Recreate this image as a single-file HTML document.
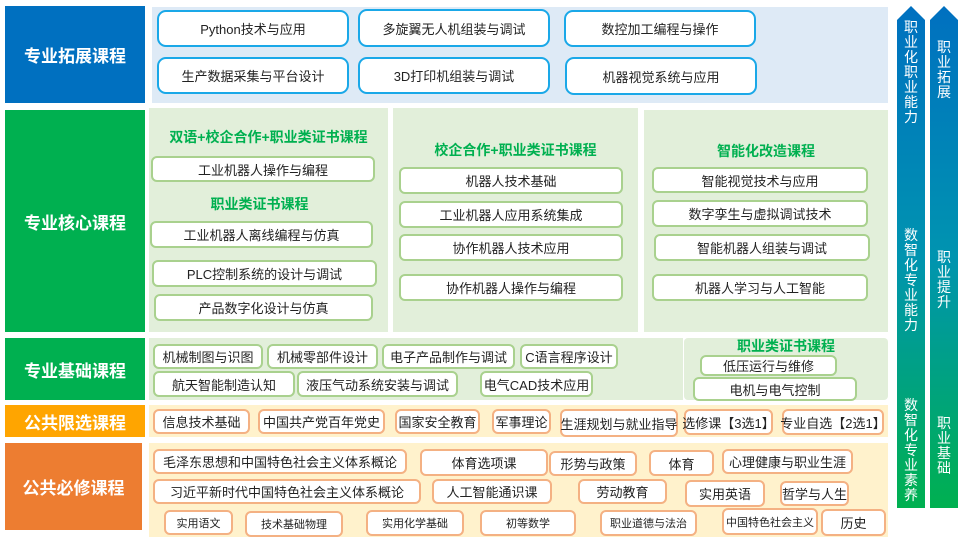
<!DOCTYPE html>
<html><head><meta charset="utf-8"><style>
*{margin:0;padding:0;box-sizing:border-box}
body{width:966px;height:539px;background:#fff;position:relative;overflow:hidden;font-family:"Liberation Sans","Noto Sans CJK SC",sans-serif;}
.lab{position:absolute;color:#fff;font-weight:bold;font-size:17px;display:flex;align-items:center;justify-content:center}
.p{position:absolute}
.b{position:absolute;background:#fff;border-radius:6px;display:flex;align-items:center;justify-content:center;font-size:13px;color:#222;white-space:nowrap}
.bl{border:2px solid #1AA8E8;border-radius:9px}
.g{border:2px solid #A9D18E}
.o{border:2px solid #F4B183}
.t{position:absolute;color:#00B050;font-weight:bold;font-size:14px;text-align:center;white-space:nowrap}
.arr{position:absolute;width:28px;top:6px;height:502px;background:linear-gradient(#0070C0,#0094B0 50%,#00B050);clip-path:polygon(0 14px,50% 0,100% 14px,100% 100%,0 100%)}
.vt{position:absolute;color:#fff;font-size:14px;line-height:15px;width:28px;text-align:center}
.s{font-size:11px}
</style></head><body>
<div class="lab" style="left:5px;top:6px;width:140px;height:97px;background:#0070C0">专业拓展课程</div>
<div class="lab" style="left:5px;top:110px;width:140px;height:222px;background:#00B050">专业核心课程</div>
<div class="lab" style="left:5px;top:338px;width:140px;height:62px;background:#00B050">专业基础课程</div>
<div class="lab" style="left:5px;top:405px;width:140px;height:32px;background:#FFA500">公共限选课程</div>
<div class="lab" style="left:5px;top:443px;width:137px;height:87px;background:#ED7D31">公共必修课程</div>

<div class="p" style="left:152px;top:7px;width:736px;height:96px;background:#DEEAF6"></div>
<div class="b bl" style="left:157px;top:10px;width:192px;height:37px">Python技术与应用</div>
<div class="b bl" style="left:358px;top:9px;width:192px;height:38px">多旋翼无人机组装与调试</div>
<div class="b bl" style="left:564px;top:10px;width:192px;height:37px">数控加工编程与操作</div>
<div class="b bl" style="left:157px;top:57px;width:192px;height:37px">生产数据采集与平台设计</div>
<div class="b bl" style="left:358px;top:57px;width:192px;height:37px">3D打印机组装与调试</div>
<div class="b bl" style="left:565px;top:57px;width:192px;height:38px">机器视觉系统与应用</div>

<div class="p" style="left:149px;top:108px;width:239px;height:224px;background:#E2EFDA"></div>
<div class="p" style="left:393px;top:108px;width:245px;height:224px;background:#E2EFDA"></div>
<div class="p" style="left:644px;top:110px;width:244px;height:222px;background:#E2EFDA"></div>
<div class="t" style="left:149px;top:127px;width:239px">双语+校企合作+职业类证书课程</div>
<div class="b g" style="left:151px;top:156px;width:224px;height:26px">工业机器人操作与编程</div>
<div class="t" style="left:140px;top:194px;width:239px">职业类证书课程</div>
<div class="b g" style="left:150px;top:221px;width:223px;height:27px">工业机器人离线编程与仿真</div>
<div class="b g" style="left:152px;top:260px;width:225px;height:27px">PLC控制系统的设计与调试</div>
<div class="b g" style="left:154px;top:294px;width:219px;height:27px">产品数字化设计与仿真</div>
<div class="t" style="left:393px;top:140px;width:245px">校企合作+职业类证书课程</div>
<div class="b g" style="left:399px;top:167px;width:224px;height:27px">机器人技术基础</div>
<div class="b g" style="left:399px;top:201px;width:224px;height:27px">工业机器人应用系统集成</div>
<div class="b g" style="left:399px;top:234px;width:224px;height:27px">协作机器人技术应用</div>
<div class="b g" style="left:399px;top:274px;width:224px;height:27px">协作机器人操作与编程</div>
<div class="t" style="left:644px;top:141px;width:244px">智能化改造课程</div>
<div class="b g" style="left:652px;top:167px;width:216px;height:26px">智能视觉技术与应用</div>
<div class="b g" style="left:652px;top:200px;width:216px;height:27px">数字孪生与虚拟调试技术</div>
<div class="b g" style="left:654px;top:234px;width:216px;height:27px">智能机器人组装与调试</div>
<div class="b g" style="left:652px;top:274px;width:216px;height:27px">机器人学习与人工智能</div>

<div class="p" style="left:149px;top:338px;width:534px;height:62px;background:#E2EFDA"></div>
<div class="p" style="left:684px;top:338px;width:204px;height:62px;background:#E2EFDA;border-radius:4px"></div>
<div class="b g" style="left:153px;top:344px;width:110px;height:25px">机械制图与识图</div>
<div class="b g" style="left:267px;top:344px;width:111px;height:25px">机械零部件设计</div>
<div class="b g" style="left:382px;top:344px;width:133px;height:25px">电子产品制作与调试</div>
<div class="b g" style="left:520px;top:344px;width:98px;height:25px">C语言程序设计</div>
<div class="b g" style="left:153px;top:371px;width:142px;height:26px">航天智能制造认知</div>
<div class="b g" style="left:297px;top:371px;width:161px;height:26px">液压气动系统安装与调试</div>
<div class="b g" style="left:480px;top:371px;width:113px;height:26px">电气CAD技术应用</div>
<div class="t" style="left:684px;top:336px;width:204px">职业类证书课程</div>
<div class="b g" style="left:700px;top:355px;width:137px;height:21px">低压运行与维修</div>
<div class="b g" style="left:693px;top:377px;width:164px;height:24px">电机与电气控制</div>

<div class="p" style="left:149px;top:405px;width:739px;height:32px;background:#FFF2CC"></div>
<div class="b o" style="left:153px;top:409px;width:97px;height:25px">信息技术基础</div>
<div class="b o" style="left:258px;top:409px;width:127px;height:25px">中国共产党百年党史</div>
<div class="b o" style="left:395px;top:409px;width:85px;height:25px">国家安全教育</div>
<div class="b o" style="left:492px;top:409px;width:59px;height:25px">军事理论</div>
<div class="b o" style="left:560px;top:409px;width:118px;height:28px">生涯规划与就业指导</div>
<div class="b o" style="left:684px;top:409px;width:89px;height:26px">选修课【3选1】</div>
<div class="b o" style="left:782px;top:409px;width:102px;height:26px">专业自选【2选1】</div>

<div class="p" style="left:149px;top:443px;width:739px;height:94px;background:#FFF2CC"></div>
<div class="b o" style="left:153px;top:449px;width:254px;height:25px">毛泽东思想和中国特色社会主义体系概论</div>
<div class="b o" style="left:420px;top:449px;width:128px;height:27px">体育选项课</div>
<div class="b o" style="left:549px;top:451px;width:88px;height:25px">形势与政策</div>
<div class="b o" style="left:649px;top:450px;width:65px;height:26px">体育</div>
<div class="b o" style="left:722px;top:449px;width:131px;height:25px">心理健康与职业生涯</div>
<div class="b o" style="left:153px;top:479px;width:268px;height:25px">习近平新时代中国特色社会主义体系概论</div>
<div class="b o" style="left:432px;top:479px;width:120px;height:25px">人工智能通识课</div>
<div class="b o" style="left:578px;top:479px;width:89px;height:25px">劳动教育</div>
<div class="b o" style="left:685px;top:480px;width:80px;height:27px">实用英语</div>
<div class="b o" style="left:780px;top:481px;width:69px;height:25px">哲学与人生</div>
<div class="b o s" style="left:164px;top:510px;width:69px;height:25px">实用语文</div>
<div class="b o s" style="left:245px;top:511px;width:98px;height:26px">技术基础物理</div>
<div class="b o s" style="left:366px;top:510px;width:98px;height:26px">实用化学基础</div>
<div class="b o s" style="left:480px;top:510px;width:96px;height:26px">初等数学</div>
<div class="b o s" style="left:600px;top:510px;width:97px;height:26px">职业道德与法治</div>
<div class="b o s" style="left:722px;top:508px;width:96px;height:27px">中国特色社会主义</div>
<div class="b o" style="left:821px;top:509px;width:65px;height:27px">历史</div>

<div class="arr" style="left:897px"></div>
<div class="arr" style="left:930px"></div>
<div class="vt" style="left:897px;top:20px">职<br>业<br>化<br>职<br>业<br>能<br>力</div>
<div class="vt" style="left:897px;top:228px">数<br>智<br>化<br>专<br>业<br>能<br>力</div>
<div class="vt" style="left:897px;top:398px">数<br>智<br>化<br>专<br>业<br>素<br>养</div>
<div class="vt" style="left:930px;top:40px">职<br>业<br>拓<br>展</div>
<div class="vt" style="left:930px;top:250px">职<br>业<br>提<br>升</div>
<div class="vt" style="left:930px;top:416px">职<br>业<br>基<br>础</div>
</body></html>
